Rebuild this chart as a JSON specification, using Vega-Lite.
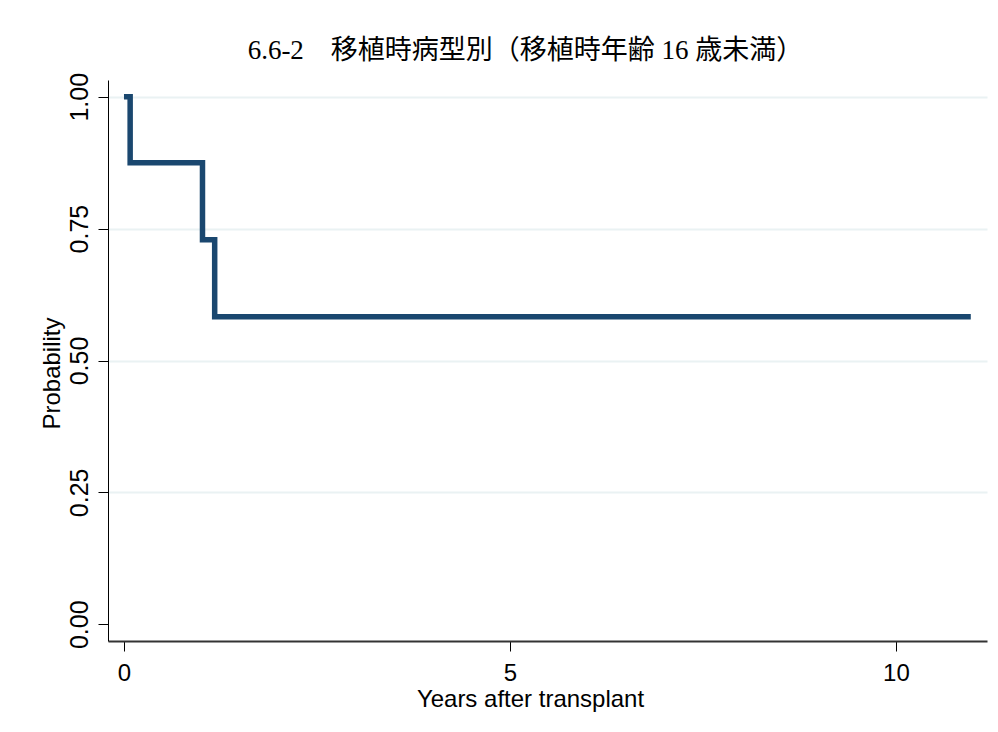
{
  "$schema": "https://vega.github.io/schema/vega-lite/v6.json",
  "autosize": {"type": "none"},
  "width": 879,
  "height": 561,
  "padding": {"left": 108, "top": 80, "right": 11, "bottom": 91},
  "background": "white",
  "title": {
    "text": "6.6-2　移植時病型別（移植時年齢 16 歳未満）",
    "font": "Liberation Serif, Noto Sans CJK JP",
    "fontSize": 27,
    "fontWeight": "normal",
    "color": "#000000",
    "anchor": "middle",
    "frame": "group",
    "dx": -22,
    "offset": 7
  },
  "data": {
    "values": [
      {"t": 0, "s": 1},
      {"t": 0.08, "s": 0.875},
      {"t": 1.017, "s": 0.729},
      {"t": 1.175, "s": 0.583},
      {"t": 10.97, "s": 0.583}
    ]
  },
  "mark": {"type": "line", "interpolate": "step-after", "color": "#1a476f", "strokeWidth": 5.5, "strokeCap": "butt", "strokeJoin": "miter"},
  "encoding": {
    "x": {
      "field": "t", "type": "quantitative",
      "scale": {"domain": [-0.207, 11.18], "nice": false, "zero": false},
      "axis": {
        "title": "Years after transplant",
        "values": [0, 5, 10],
        "grid": false,
        "domainColor": "#333333", "domainWidth": 2,
        "tickColor": "#000000", "tickSize": 10, "tickWidth": 1,
        "labelFont": "Liberation Sans", "labelFontSize": 24, "labelColor": "#000000", "labelPadding": 10,
        "titleFont": "Liberation Sans", "titleFontSize": 24, "titleFontWeight": "normal", "titleColor": "#000000", "titlePadding": 2,
        "titleX": 422
      }
    },
    "y": {
      "field": "s", "type": "quantitative",
      "scale": {"domain": [-0.0317, 1.0317], "nice": false, "zero": false},
      "axis": {
        "title": "Probability",
        "values": [0, 0.25, 0.5, 0.75, 1],
        "format": ".2f",
        "grid": true,
        "gridColor": "#eaf2f3", "gridWidth": 2,
        "gridOpacity": {"condition": {"test": "datum.value === 0", "value": 0}, "value": 1},
        "domainColor": "#000000", "domainWidth": 1,
        "tickColor": "#000000", "tickSize": 10, "tickWidth": 1,
        "labelAngle": -90, "labelAlign": "center", "labelBaseline": "bottom",
        "labelFont": "Liberation Sans", "labelFontSize": 25, "labelColor": "#000000", "labelPadding": 6,
        "titleFont": "Liberation Sans", "titleFontSize": 24, "titleFontWeight": "normal", "titleColor": "#000000", "titlePadding": 3,
        "titleY": 293
      }
    }
  },
  "config": {"view": {"stroke": null}}
}
